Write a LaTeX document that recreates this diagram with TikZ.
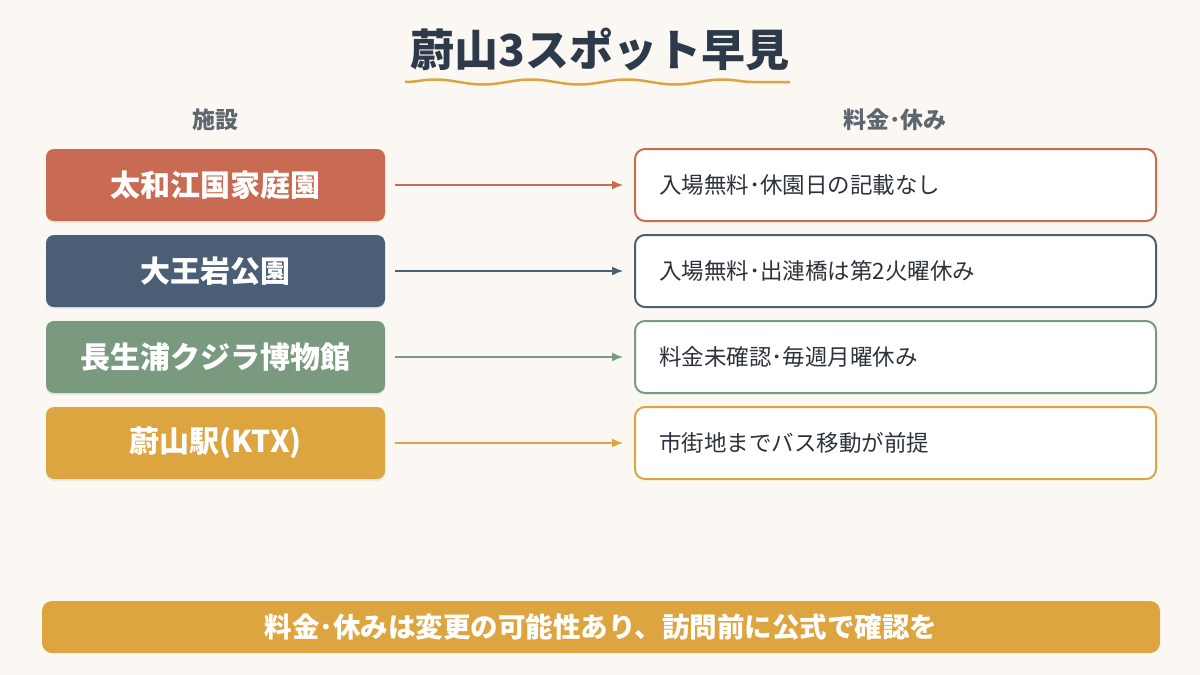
\documentclass[tikz,border=0pt]{standalone}
\usepackage{fontspec}
\setmainfont{Noto Sans CJK JP}
\usetikzlibrary{decorations.pathmorphing,shadows,arrows.meta}
\definecolor{bg}{HTML}{FBF7F3}
\definecolor{cA}{HTML}{C96A52}
\definecolor{cB}{HTML}{4A5E75}
\definecolor{cC}{HTML}{7A9A80}
\definecolor{cD}{HTML}{DDA540}
\definecolor{ttl}{HTML}{2D3A4A}
\definecolor{hdr}{HTML}{5E6670}
\definecolor{txt}{HTML}{2D333A}
\begin{document}
\begin{tikzpicture}[x=1pt,y=-1pt,
  lbox/.style={rounded corners=8pt,minimum width=339pt,minimum height=72pt,text=white,font=\fontsize{30}{34}\selectfont\bfseries,drop shadow={shadow xshift=0pt,shadow yshift=-2pt,opacity=0.12}},
  rbox/.style={rounded corners=10pt,line width=2pt,fill=white,minimum width=521pt,minimum height=72pt,text=txt,font=\fontsize{22.5}{27}\selectfont,text width=473pt,align=left,inner xsep=24pt},
  arr/.style={line width=1.5pt,-{Latex[length=11pt,width=9pt]}},
  hd/.style={text=hdr,font=\fontsize{23}{27}\selectfont\bfseries}]
\fill[bg] (0,0) rectangle (1200,675);
\node[text=ttl,font=\fontsize{44}{50}\selectfont\bfseries] (title) at (600,50) {蔚山3スポット早見};
\draw[cD,line width=2.5pt,decorate,decoration={snake,segment length=96pt,amplitude=2.5pt}] (405,82) -- (790,82);
\node[hd] (h1) at (215,120) {施設};
\node[hd] (h2) at (895,120) {料金･休み};
\foreach \i/\c/\l/\r in {0/cA/太和江国家庭園/入場無料･休園日の記載なし,1/cB/大王岩公園/入場無料･出漣橋は第2火曜休み,2/cC/長生浦クジラ博物館/料金未確認･毎週月曜休み,3/cD/蔚山駅(KTX)/市街地までバス移動が前提}{
  \node[lbox,fill=\c] (L\i) at (215.5,185+86*\i) {\l};
  \node[rbox,draw=\c] (R\i) at (895.5,185+86*\i) {\r};
  \draw[arr,\c] ([xshift=10pt]L\i.east) -- ([xshift=-11pt]R\i.west);
}
\node[rounded corners=10pt,fill=cD,minimum width=1118pt,minimum height=52pt,text=white,font=\fontsize{27.5}{32}\selectfont\bfseries] (note) at (601,627) {料金･休みは変更の可能性あり、訪問前に公式で確認を};
\end{tikzpicture}
\end{document}
